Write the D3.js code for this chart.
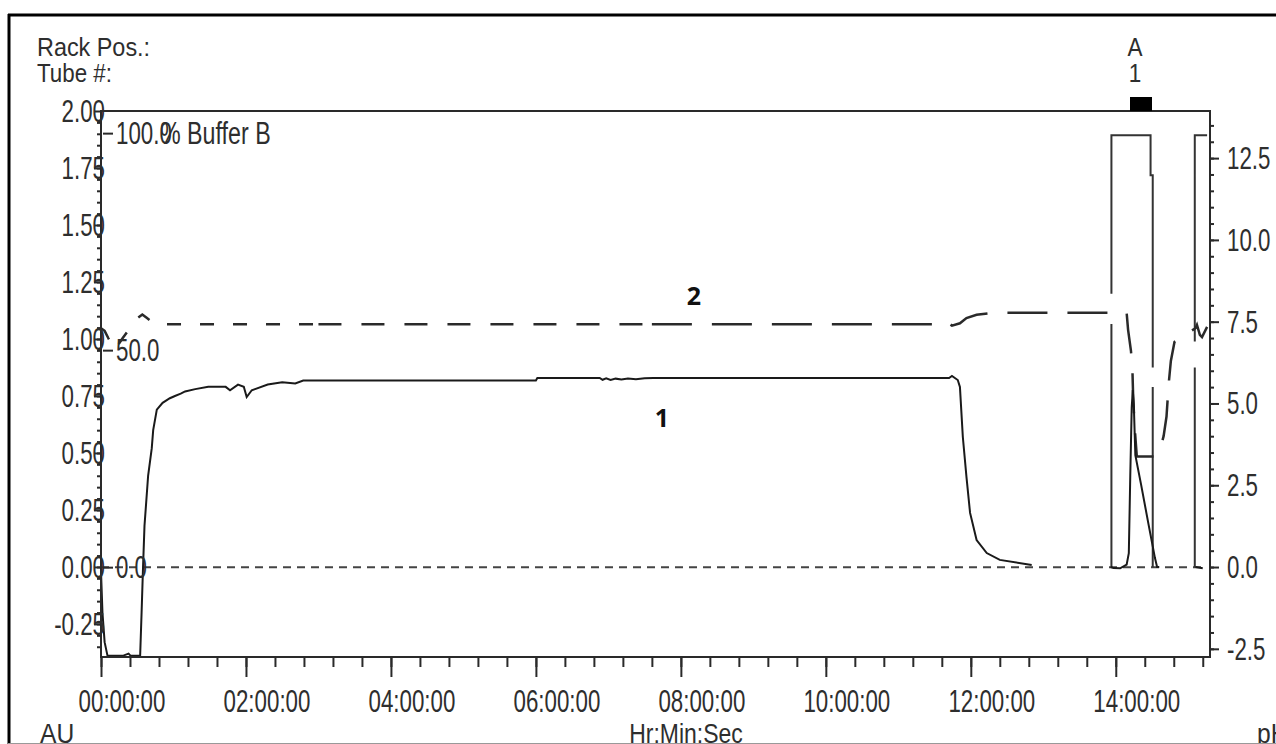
<!DOCTYPE html>
<html>
<head>
<meta charset="utf-8">
<script src="https://cdn.jsdelivr.net/npm/d3@7"></script>
<style>
  html, body { margin: 0; padding: 0; background: #fff; }
  svg { display: block; }
  text { font-family: "Liberation Sans", Arial, sans-serif; fill: #2e2e2e; }
</style>
</head>
<body>
<svg id="chart" width="1276" height="744"></svg>
<script>
// run time in hours, UV absorbance (AU); null = no trace drawn
const uvTime = [
  0.00, 0.02, 0.05, 0.09, 0.30, 0.38, 0.41, 0.54, 0.56, 0.58,
  0.60, 0.65, 0.70, 0.72, 0.77, 0.85, 0.95, 1.02, 1.10, 1.16,
  1.30, 1.48, 1.72, 1.78, 1.89, 1.97, 2.01, 2.08, 2.30, 2.50,
  2.68, 2.79, 4.00, 6.00, 6.02, 6.88, 6.92, 6.97, 7.03, 7.10,
  7.18, 7.27, 7.38, 7.50, 7.62, 11.70, 11.74, 11.82, 11.85, 11.89,
  11.94, 11.99, 12.08, 12.22, 12.40, 12.84, 13.40, 13.93, 13.97, 14.06,
  14.15, 14.18, 14.20, 14.22, 14.235, 14.25, 14.27, 14.35, 14.45, 14.51,
  14.54, 14.57, 14.60, 14.90, 15.10, 15.20
];
const uvAU = [
  -0.02, -0.20, -0.33, -0.39, -0.39, -0.38, -0.39, -0.39, -0.20, 0.00,
  0.18, 0.40, 0.52, 0.60, 0.69, 0.72, 0.74, 0.75, 0.76, 0.77,
  0.78, 0.79, 0.79, 0.775, 0.80, 0.79, 0.745, 0.775, 0.80, 0.81,
  0.805, 0.818, 0.818, 0.818, 0.829, 0.829, 0.821, 0.827, 0.820, 0.826,
  0.822, 0.827, 0.823, 0.828, 0.829, 0.829, 0.838, 0.82, 0.79, 0.57,
  0.395, 0.237, 0.118, 0.061, 0.031, 0.009, null, 0.00, -0.005, -0.006,
  0.01, 0.06, 0.40, 0.70, 0.776, 0.70, 0.49, 0.36, 0.19, 0.09,
  0.04, 0.00, 0.00, null, 0.00, -0.006
];

// pH trace
const phTime = [
  0.00, 0.05, 0.10, 0.15, 0.19, 0.30, 0.45, 0.51, 0.57, 0.63,
  0.75, 6.00, 11.60, 11.67, 11.74, 11.85, 11.94, 12.08, 12.30, 14.03,
  14.15, 14.17, 14.21, 14.23, 14.24, 14.26, 14.29, 14.54, 14.58, 14.61,
  14.66, 14.70, 14.73, 14.76, 14.81, 14.95, 15.02, 15.10, 15.12, 15.16,
  15.19, 15.26
];
const phValue = [
  7.30, 7.22, 7.00, 6.80, 6.64, 7.00, 7.45, 7.62, 7.72, 7.62,
  7.42, 7.42, 7.42, 7.49, 7.38, 7.45, 7.61, 7.71, 7.77, 7.77,
  7.77, 7.25, 6.60, 6.00, 5.20, 4.30, 3.38, 3.38, 3.45, 3.60,
  4.00, 4.60, 5.60, 6.30, 6.88, 7.10, 7.19, 7.30, 7.40, 7.10,
  7.03, 7.34
];

// % Buffer B steps at the end of the run
const bufferTime = [13.94, 13.94, 13.94, 13.94, 13.94, 14.48, 14.48, 14.51, 14.51, 14.51,
  14.51, 14.51, 14.80, 15.09, 15.09, 15.09, 15.09, 15.09, 15.26];
const bufferPct = [0, 56, null, 63, 99.5, 99.5, 90.3, 90.3, 46, null,
  41.5, 0, null, 0, 46, null, 52, 99.5, 99.5];

const timeTicks = [0, 2, 4, 6, 8, 10, 12, 14];
const timeTickLabels = ["00:00:00", "02:00:00", "04:00:00", "06:00:00", "08:00:00", "10:00:00", "12:00:00", "14:00:00"];
const auTicks = [-0.25, 0, 0.25, 0.5, 0.75, 1.0, 1.25, 1.5, 1.75, 2.0];
const auTickLabels = ["-0.25", "0.00", "0.25", "0.50", "0.75", "1.00", "1.25", "1.50", "1.75", "2.00"];
const phTicks = [-2.5, 0, 2.5, 5, 7.5, 10, 12.5];
const phTickLabels = ["-2.5", "0.0", "2.5", "5.0", "7.5", "10.0", "12.5"];
const bufferTicks = [0, 50, 100];
const bufferTickLabels = ["0.0", "50.0", "100.0"];

const plot = { left: 101, top: 111, right: 1210, bottom: 657 };
const svg = d3.select('#chart');

const x = d3.scaleLinear().domain([0, 15.3]).range([plot.left, plot.right]);
const yAU = d3.scaleLinear().domain([-0.395, 2.0]).range([plot.bottom, plot.top]);
const yPH = d3.scaleLinear().domain([-2.75, 13.94]).range([plot.bottom, plot.top]);
const yB = d3.scaleLinear().domain([-20.7, 105.1]).range([plot.bottom, plot.top]);

// squeezed label text, the original font is narrow and tall
function label(g, px, py, s, o = {}) {
  const size = o.size || 31, sx = o.sx || 0.72;
  return g.append('text')
    .attr('transform', `translate(${px},${py}) scale(${sx},1)`)
    .attr('text-anchor', o.anchor || 'start')
    .style('font-size', size + 'px')
    .text(s);
}

// outer frame
svg.append('line').attr('x1', 9).attr('x2', 9).attr('y1', 14).attr('y2', 744)
  .attr('stroke', '#000').attr('stroke-width', 3);
svg.append('line').attr('x1', 8).attr('x2', 1276).attr('y1', 15).attr('y2', 15)
  .attr('stroke', '#000').attr('stroke-width', 3);

svg.append('defs').append('clipPath').attr('id', 'plotClip')
  .append('rect').attr('x', plot.left).attr('y', plot.top)
  .attr('width', plot.right - plot.left).attr('height', plot.bottom - plot.top);

const curves = svg.append('g').attr('clip-path', 'url(#plotClip)');

// zero line of the buffer trace
curves.append('line')
  .attr('x1', x(0)).attr('x2', x(15.2)).attr('y1', yB(0)).attr('y2', yB(0))
  .attr('stroke', '#444').attr('stroke-width', 2).attr('stroke-dasharray', '8,6');

const bufferLine = d3.line().defined(d => d[1] != null).x(d => x(d[0])).y(d => yB(d[1]));
curves.append('path').datum(d3.zip(bufferTime, bufferPct))
  .attr('d', bufferLine).attr('fill', 'none')
  .attr('stroke', '#333').attr('stroke-width', 2);

// pH trace, dash length grows along the run
const phLine = d3.line().x(d => x(d[0])).y(d => yPH(d[1]));
const phPoints = d3.zip(phTime, phValue);
const phParts = [
  { from: 0, to: 3.0, dash: '14,19' },
  { from: 3.0, to: 7.6, dash: '23,20' },
  { from: 7.6, to: 16, dash: '40,20' }
];
phParts.forEach(p => {
  let pts = phPoints.filter(d => d[0] >= p.from && d[0] <= p.to);
  const before = phPoints.filter(d => d[0] < p.from).pop();
  const after = phPoints.find(d => d[0] > p.to);
  if (before) pts = [[p.from, phValue[phTime.indexOf(before[0])]]].concat(pts);
  if (after && pts.length) pts.push([p.to, pts[pts.length - 1][1]]);
  curves.append('path').datum(pts)
    .attr('d', phLine).attr('fill', 'none')
    .attr('stroke', '#2a2a2a').attr('stroke-width', 2.5)
    .attr('stroke-dasharray', p.dash);
});

const uvLine = d3.line().defined(d => d[1] != null).x(d => x(d[0])).y(d => yAU(d[1]));
curves.append('path').datum(d3.zip(uvTime, uvAU))
  .attr('d', uvLine).attr('fill', 'none')
  .attr('stroke', '#1a1a1a').attr('stroke-width', 2);

// plot box
svg.append('rect').attr('x', plot.left).attr('y', plot.top)
  .attr('width', plot.right - plot.left).attr('height', plot.bottom - plot.top)
  .attr('fill', 'none').attr('stroke', '#2a2a2a').attr('stroke-width', 2);

function styleAxis(g) {
  g.select('.domain').remove();
  g.selectAll('line').attr('stroke', '#2a2a2a').attr('stroke-width', 2);
  g.selectAll('text').remove();
}

// time axis
svg.append('g').attr('transform', `translate(0,${plot.bottom})`)
  .call(d3.axisBottom(x).tickValues(d3.range(0, 15.3, 0.4)).tickSize(10)).call(styleAxis);
svg.append('g').attr('transform', `translate(0,${plot.bottom})`)
  .call(d3.axisBottom(x).tickValues(timeTicks).tickSize(20)).call(styleAxis);
const xl = svg.append('g');
timeTicks.forEach((t, i) => label(xl, x(t) + 21, 712, timeTickLabels[i], { anchor: 'middle' }));

// AU axis
svg.append('g').attr('transform', `translate(${plot.left},0)`)
  .call(d3.axisLeft(yAU).tickValues(d3.range(-0.35, 2.0, 0.05)).tickSize(4)).call(styleAxis);
svg.append('g').attr('transform', `translate(${plot.left},0)`)
  .call(d3.axisLeft(yAU).tickValues(auTicks).tickSize(7)).call(styleAxis);
const yl = svg.append('g');
auTicks.forEach((v, i) => label(yl, 105, yAU(v) + 11, auTickLabels[i], { anchor: 'end' }));

// % Buffer B scale inside the plot
svg.append('g').attr('transform', `translate(${plot.left + 2},0)`)
  .call(d3.axisRight(yB).tickValues(bufferTicks).tickSize(10)).call(styleAxis);
bufferTicks.forEach((v, i) => label(yl, 116, yB(v) + 11, bufferTickLabels[i]));
label(yl, 160, yB(100) + 11, '% Buffer B', { sx: 0.75 });

// pH axis
svg.append('g').attr('transform', `translate(${plot.right},0)`)
  .call(d3.axisRight(yPH).tickValues(d3.range(-2.5, 13.6, 0.5)).tickSize(4)).call(styleAxis);
svg.append('g').attr('transform', `translate(${plot.right},0)`)
  .call(d3.axisRight(yPH).tickValues(phTicks).tickSize(9)).call(styleAxis);
phTicks.forEach((v, i) => label(yl, 1227, yPH(v) + 11, phTickLabels[i]));

// header and unit texts
const hd = svg.append('g');
label(hd, 37, 56, 'Rack Pos.:', { size: 26, sx: 0.9 });
label(hd, 37, 82, 'Tube #:', { size: 26, sx: 0.86 });
label(hd, 1135, 56, 'A', { size: 25, sx: 0.9, anchor: 'middle' });
label(hd, 1135, 82, '1', { size: 25, sx: 0.9, anchor: 'middle' });
svg.append('rect').attr('x', 1130).attr('y', 97).attr('width', 22).attr('height', 14).attr('fill', '#000');

label(hd, 40, 743, 'AU', { size: 28, sx: 0.88 });
label(hd, 686, 743, 'Hr:Min:Sec', { size: 28, sx: 0.82, anchor: 'middle' });
label(hd, 1257, 743, 'pH', { size: 28, sx: 0.88 });

svg.append('line').attr('x1', 8).attr('x2', 1276).attr('y1', 743.5).attr('y2', 743.5)
  .attr('stroke', '#999').attr('stroke-width', 1);

// trace numbers
svg.append('text').attr('x', 694).attr('y', 305).attr('text-anchor', 'middle')
  .style('font-family', '"Open Sans", "Noto Sans", sans-serif').style('font-weight', 700)
  .style('font-size', '25px').style('fill', '#111').text('2');
svg.append('text').attr('x', 662).attr('y', 427).attr('text-anchor', 'middle')
  .style('font-family', '"Open Sans", "Noto Sans", sans-serif').style('font-weight', 700)
  .style('font-size', '25px').style('fill', '#111').text('1');
</script>
</body>
</html>
